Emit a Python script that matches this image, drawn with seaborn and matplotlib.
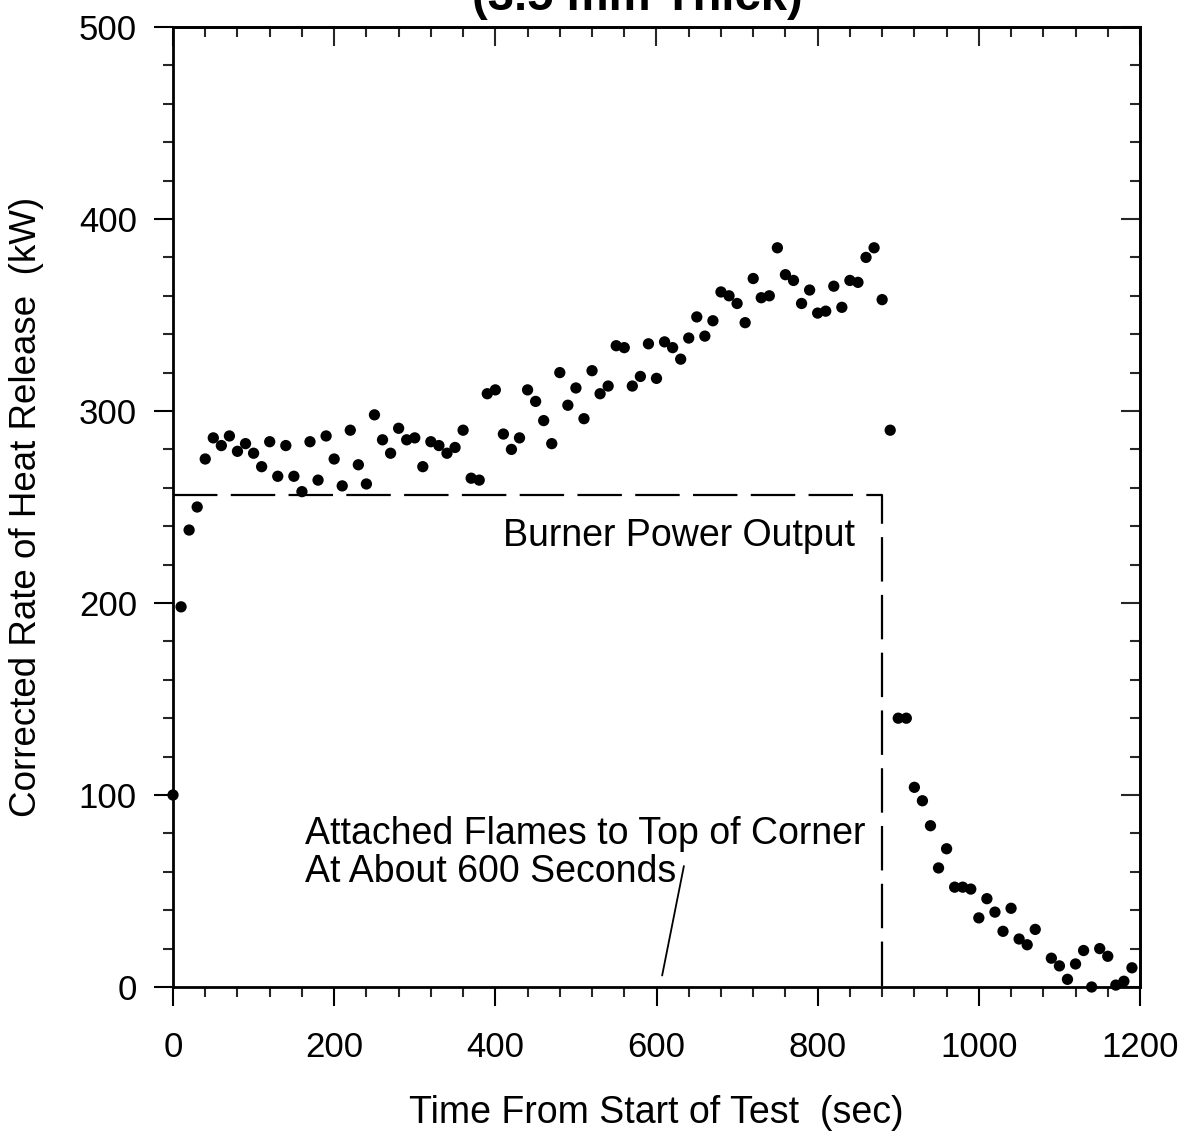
import numpy as np
import pandas as pd
import seaborn as sns
from matplotlib import pyplot as plt
from matplotlib.ticker import MultipleLocator, NullFormatter

sns.set_style("ticks")
plt.rcParams["font.family"] = ["Liberation Sans", "DejaVu Sans"]
plt.rcParams["text.color"] = "black"
plt.rcParams["axes.labelcolor"] = "black"

# corrected heat release readings, one every 10 s (no reading at 1080 s)
time_s = [t for t in range(0, 1200, 10) if t != 1080]
hrr_kw = [
    100, 198, 238, 250, 275, 286, 282, 287, 279, 283,
    278, 271, 284, 266, 282, 266, 258, 284, 264, 287,
    275, 261, 290, 272, 262, 298, 285, 278, 291, 285,
    286, 271, 284, 282, 278, 281, 290, 265, 264, 309,
    311, 288, 280, 286, 311, 305, 295, 283, 320, 303,
    312, 296, 321, 309, 313, 334, 333, 313, 318, 335,
    317, 336, 333, 327, 338, 349, 339, 347, 362, 360,
    356, 346, 369, 359, 360, 385, 371, 368, 356, 363,
    351, 352, 365, 354, 368, 367, 380, 385, 358, 290,
    140, 140, 104, 97, 84, 62, 72, 52, 52, 51,
    36, 46, 39, 29, 41, 25, 22, 30, 15, 11,
    4, 12, 19, 0, 20, 16, 1, 3, 10,
]

# burner output: constant, switched off at ~880 s
burner_t = [0, 880, 880]
burner_kw = [256, 256, 0]

df = pd.DataFrame({"time": time_s, "hrr": hrr_kw})
burner = pd.DataFrame({"time": burner_t, "kw": burner_kw})

fig = plt.figure(figsize=(11.86, 11.41), dpi=100)
ax = fig.add_axes([173 / 1186, 1 - 987 / 1141, (1140 - 173) / 1186, (987 - 27) / 1141])

sns.lineplot(ax=ax, data=burner, x="time", y="kw", sort=False, estimator=None,
             color="black", linewidth=1.6, dashes=False)
ax.lines[-1].set_dashes((20, 6))
sns.scatterplot(ax=ax, data=df, x="time", y="hrr", color="black", s=66,
                edgecolor="none", clip_on=False, zorder=5)

ax.set_xlim(0, 1200)
ax.set_ylim(0, 500)
ax.xaxis.set_major_locator(MultipleLocator(200))
ax.xaxis.set_minor_locator(MultipleLocator(40))
ax.yaxis.set_major_locator(MultipleLocator(100))
ax.yaxis.set_minor_locator(MultipleLocator(20))

for s in ax.spines.values():
    s.set_linewidth(2.0)
    s.set_color("black")

ax.tick_params(axis="both", which="major", direction="out", length=14, width=1.5,
               labelsize=25, colors="black")
ax.tick_params(axis="both", which="minor", direction="out", length=7, width=1.5)
ax.tick_params(axis="x", which="major", pad=18)
ax.tick_params(axis="y", which="major", pad=12)

top = ax.secondary_xaxis("top")
top.xaxis.set_major_locator(MultipleLocator(200))
top.xaxis.set_minor_locator(MultipleLocator(40))
top.xaxis.set_major_formatter(NullFormatter())
top.tick_params(which="major", direction="in", length=14, width=1.5)
top.tick_params(which="minor", direction="in", length=7, width=1.5)
top.spines["top"].set_linewidth(2.0)

right = ax.secondary_yaxis("right")
right.yaxis.set_major_locator(MultipleLocator(100))
right.yaxis.set_minor_locator(MultipleLocator(20))
right.yaxis.set_major_formatter(NullFormatter())
right.tick_params(which="major", direction="in", length=14, width=1.5)
right.tick_params(which="minor", direction="in", length=7, width=1.5)
right.spines["right"].set_linewidth(2.0)

ax.set_xlabel("Time From Start of Test  (sec)", fontsize=27, labelpad=22)
ax.set_ylabel("Corrected Rate of Heat Release  (kW)", fontsize=26.5, labelpad=25)

ax.text(846, 235, "Burner Power Output", fontsize=27, ha="right", va="center")
ax.text(164, 70, "Attached Flames to Top of Corner\nAt About 600 Seconds",
        fontsize=27, ha="left", va="center", linespacing=1.07)
ax.annotate("", xy=(607, 6), xytext=(634, 63),
            arrowprops=dict(arrowstyle="-", color="black", lw=1.3,
                            shrinkA=0, shrinkB=0))

fig.text(637 / 1186, 1 - 10 / 1141, "(3.5 mm Thick)", fontsize=34,
         fontweight="bold", ha="center", va="baseline")

plt.savefig("out.png", dpi=100)
